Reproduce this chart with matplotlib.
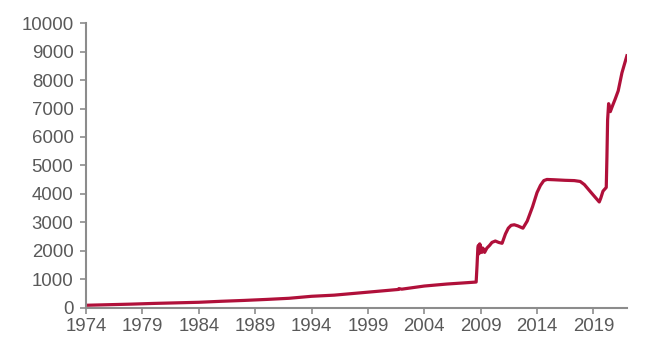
import matplotlib
matplotlib.use('Agg')
import matplotlib.pyplot as plt

# balance sheet total
years = [1974.0, 1976, 1978, 1980, 1982, 1984, 1986, 1988, 1990, 1992, 1994, 1996,
         1998, 2000, 2001.7, 2001.75, 2002, 2004, 2006, 2007.5, 2008.6, 2008.68,
         2008.75, 2008.8, 2008.85, 2008.92, 2009.0, 2009.1, 2009.2, 2009.35, 2009.55,
         2009.8, 2010.0, 2010.3, 2010.6, 2010.9, 2011.2, 2011.45, 2011.7, 2011.98,
         2012.3, 2012.75, 2013.13, 2013.6, 2014.0, 2014.3, 2014.6, 2014.88, 2015.5,
         2016.5, 2017.3, 2017.83, 2018.2, 2018.8, 2019.52, 2019.65, 2019.85, 2020.14,
         2020.2, 2020.26, 2020.35, 2020.42, 2020.5, 2020.7, 2020.94, 2021.2,
         2021.53, 2021.97]
values = [95, 115, 135, 160, 180, 200, 235, 265, 300, 340, 410, 450,
          520, 590, 650, 680, 660, 770, 840, 880, 910, 1500,
          2100, 2200, 1900, 2250, 2150, 1950, 2100, 1950, 2100,
          2200, 2300, 2350, 2300, 2270, 2600, 2800, 2900, 2920,
          2880, 2800, 3050, 3550, 4050, 4300, 4470, 4510, 4500,
          4480, 4470, 4440, 4330, 4050, 3720, 3850, 4100, 4230,
          5300, 6600, 7170, 7050, 6890, 7100, 7340, 7620,
          8250, 8850]

x_ticks = [1974, 1979, 1984, 1989, 1994, 1999, 2004, 2009, 2014, 2019]
y_ticks = list(range(0, 10001, 1000))

plt.rcParams['font.family'] = ['Liberation Sans', 'DejaVu Sans']
grey = '#595959'
axis_grey = '#8c8c8c'

fig = plt.figure(figsize=(6.52, 3.54), dpi=100)
ax = fig.add_axes([0.132, 0.13, 0.830, 0.805])
ax.plot(years, values, color='#b0103a', linewidth=2.3, solid_joinstyle='round')

ax.set_xlim(1974, 2022)
ax.set_ylim(0, 10000)
ax.set_xticks(x_ticks)
ax.set_yticks(y_ticks)
ax.tick_params(axis='both', colors=axis_grey, labelcolor=grey, labelsize=13.4,
               length=4, width=1.2, direction='out')
ax.tick_params(axis='x', pad=3)
ax.tick_params(axis='y', pad=5)

for side in ['top', 'right']:
    ax.spines[side].set_visible(False)
for side in ['left', 'bottom']:
    ax.spines[side].set_color(axis_grey)
    ax.spines[side].set_linewidth(1.5)

fig.savefig('out.png', dpi=100)
